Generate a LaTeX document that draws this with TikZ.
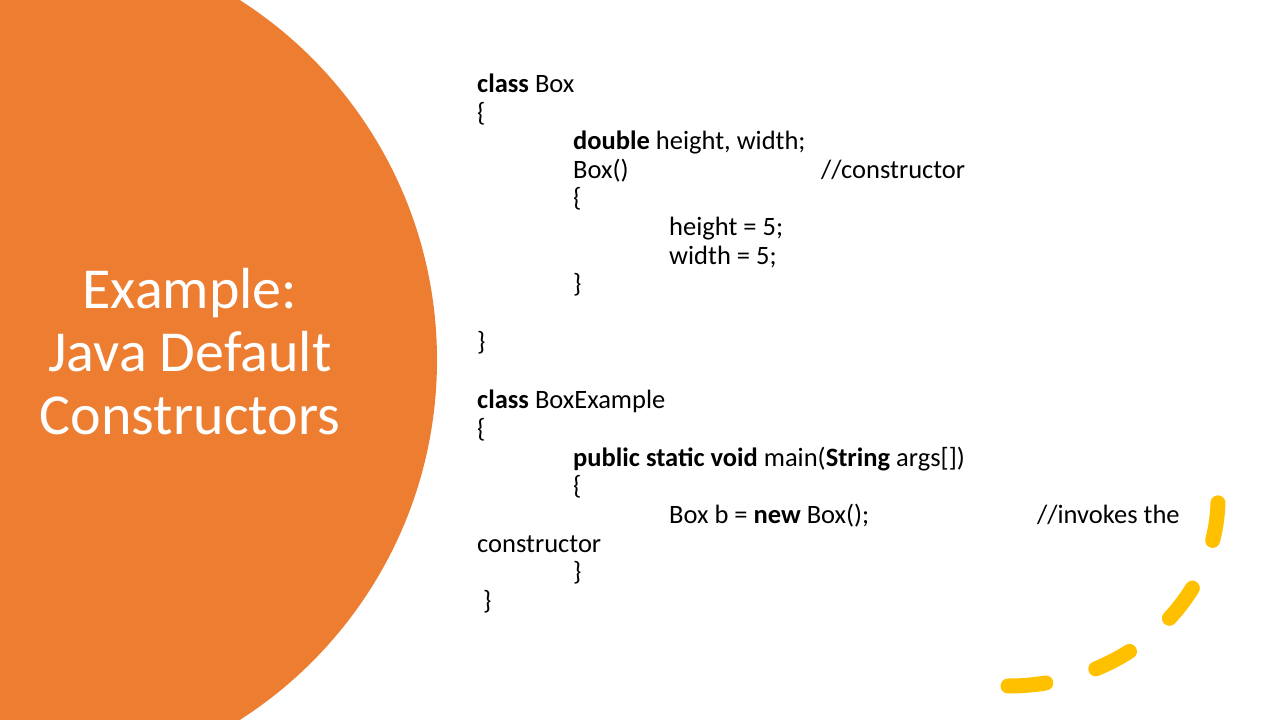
\documentclass[tikz,border=0pt]{standalone}
\usepackage{fontspec}
\setmainfont{Carlito}
\begin{document}
\begin{tikzpicture}[x=1pt,y=-1pt,
  code/.style={anchor=base west,inner sep=0pt,font=\fontsize{26.5}{28}\selectfont},
  ttl/.style={anchor=base,inner sep=0pt,text=white,font=\fontsize{58}{60}\selectfont}]
\definecolor{orng}{HTML}{ED7D31}
\definecolor{ylw}{HTML}{FFC000}
\useasboundingbox (0,0) rectangle (1280,720);
\fill[white] (0,0) rectangle (1280,720);
\begin{scope}
\clip (0,0) rectangle (1280,720);
\fill[orng] (10,360) circle[radius=427];
\end{scope}
\node[ttl] (t1) at (190,308) {Example:};
\node[ttl] (t2) at (190,371) {Java Default};
\node[ttl] (t3) at (190,434) {Constructors};
\node[code] (c1) at (477,92) {\textbf{class} Box};
\node[code] (c2) at (477,121) {\{};
\node[code] (c3) at (573,149) {\textbf{double} height, width;};
\node[code] (c4) at (573,178) {Box()};
\node[code] (c4b) at (821,178) {//constructor};
\node[code] (c5) at (573,206) {\{};
\node[code] (c6) at (669,235) {height = 5;};
\node[code] (c7) at (669,264) {width = 5;};
\node[code] (c8) at (573,292) {\}};
\node[code] (c9) at (477,350) {\}};
\node[code] (d1) at (477,408) {\textbf{class} BoxExample};
\node[code] (d2) at (477,437) {\{};
\node[code] (d3) at (573,466) {\textbf{public static void} main(\textbf{String} args[])};
\node[code] (d4) at (573,494) {\{};
\node[code] (d5) at (669,523) {Box b = \textbf{new} Box();};
\node[code] (d5b) at (1037,523) {//invokes the};
\node[code] (d6) at (477,552) {constructor};
\node[code] (d7) at (573,580) {\}};
\node[code] (d8) at (483,609) {\}};
\draw[ylw,line width=15pt,line cap=round,dash pattern=on 38pt off 52pt]
  (1008,686) arc[start angle=90,end angle=0,x radius=210,y radius=188];
\end{tikzpicture}
\end{document}
